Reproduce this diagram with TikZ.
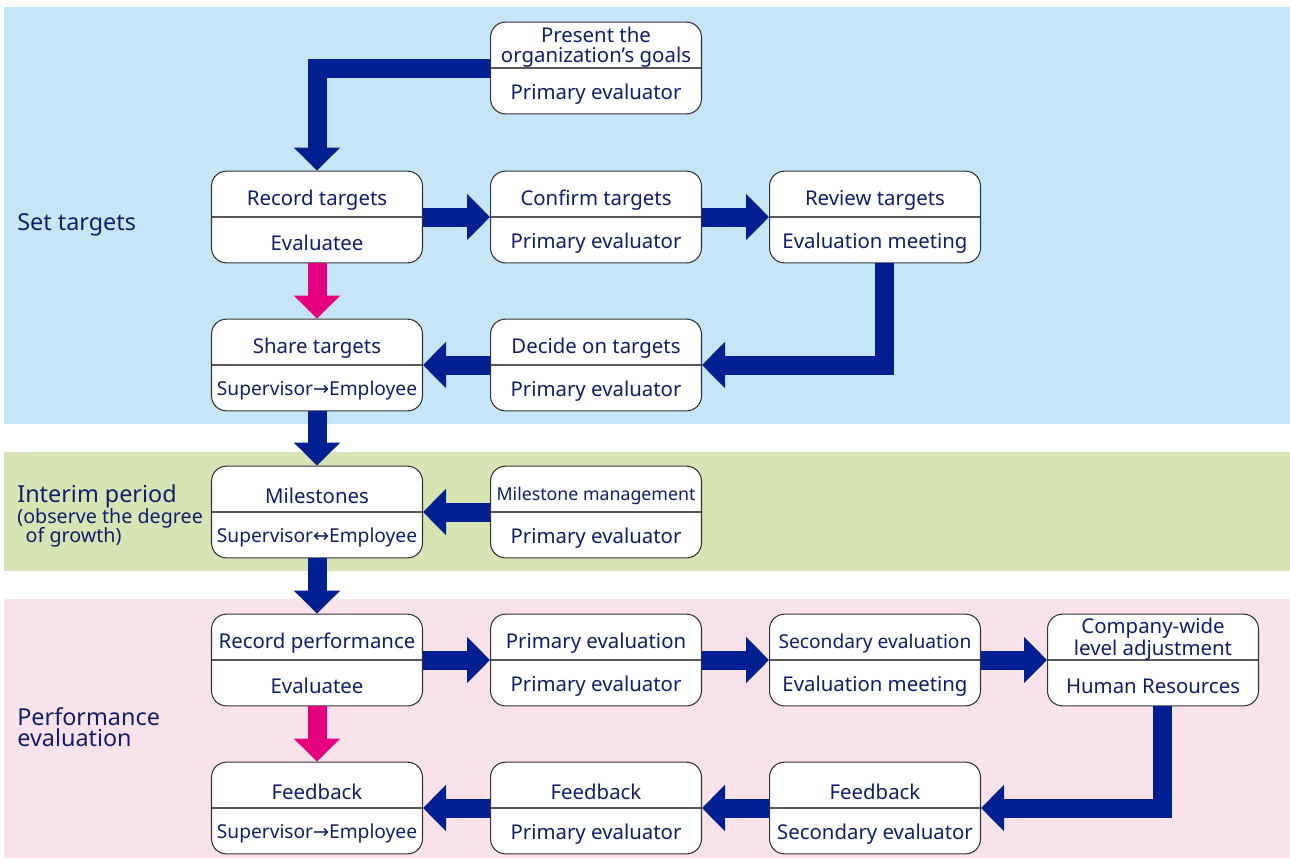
\documentclass[tikz,border=0pt]{standalone}
\usepackage{fontspec}
\setmainfont{Noto Sans}
\newfontfamily\arrowfont{DejaVu Sans}
\usepackage{tikz}
\usetikzlibrary{arrows.meta,calc}
\definecolor{navy}{RGB}{0,32,145}
\definecolor{ink}{RGB}{16,30,110}
\definecolor{hotpink}{RGB}{228,0,127}
\definecolor{bandblue}{RGB}{198,230,248}
\definecolor{bandgreen}{RGB}{215,228,180}
\definecolor{bandpink}{RGB}{250,226,235}
\tikzset{
    stage/.style = {draw=black!80, fill=white, rectangle, rounded corners=0.3cm,
        line width=0.6pt, inner sep=0pt, text=ink,
        path picture={\draw[black!65, line width=0.6pt] (path picture bounding box.west) -- (path picture bounding box.east);}},
    flow/.style = {draw=navy, line width=0.38cm, line join=miter,
        -{Triangle[width=0.9cm, length=0.46cm]}},
    share/.style = {flow, draw=hotpink},
    phase/.style = {anchor=west, inner sep=0pt, text=ink, align=left, font=\fontsize{13.3}{14}\selectfont}
}
% top part: optional downward shift, then the name of the step; bottom part: who does it
\newcommand{\twopart}[3][0.28cm]{\vbox{\hbox{\parbox[c][0.9cm][c]{4.22cm}{\vspace*{#1}\centering\fontsize{11.6}{11.4}\selectfont #2}}%
    \hbox{\parbox[c][0.9cm][c]{4.22cm}{\vspace*{0.1cm}\centering\fontsize{11.6}{12}\selectfont #3}}}}
\newcommand{\narrow}[1]{{\fontsize{10.9}{12}\selectfont #1}}
\newcommand{\ra}{{\arrowfont →}}
\newcommand{\lra}{{\arrowfont ↔}}

\begin{document}
\begin{tikzpicture}[x=0.02cm, y=-0.02cm]
    \useasboundingbox (0,0) rectangle (1290,860);
    % bands
    \fill[bandblue] (4,7) rectangle (1290,424);
    \fill[bandgreen] (4,452) rectangle (1290,571);
    \fill[bandpink] (4,599) rectangle (1290,858);
    \node[phase] (settgt) at (17,225) {Set targets};
    \node[phase] (interim) at (17,516) {Interim period\\[-2pt]{\fontsize{11.2}{10.5}\selectfont (observe the degree}\\[-3pt]{\fontsize{11.2}{10.5}\selectfont\ \,of growth)}};
    \node[phase] (perfeval) at (17,727) {Performance\\[-2pt]evaluation};
    % set targets
    \node[stage] (goals) at (596,68) {\twopart[0.1cm]{Present the\\organization’s goals}{Primary evaluator}};
    \node[stage] (rec) at (317,217) {\twopart{Record targets}{Evaluatee}};
    \node[stage] (conf) at (596,217) {\twopart{Confirm targets}{Primary evaluator}};
    \node[stage] (rev) at (875,217) {\twopart{Review targets}{Evaluation meeting}};
    \node[stage] (sharet) at (317,365) {\twopart{Share targets}{\narrow{Supervisor\ra Employee}}};
    \node[stage] (dec) at (596,365) {\twopart{Decide on targets}{Primary evaluator}};
    % interim
    \node[stage] (mile) at (317,512) {\twopart{Milestones}{\narrow{Supervisor\lra Employee}}};
    \node[stage] (mgmt) at (596,512) {\twopart{{\fontsize{10.1}{12}\selectfont Milestone management}}{Primary evaluator}};
    % performance evaluation
    \node[stage] (perf) at (317,660) {\twopart{Record performance}{Evaluatee}};
    \node[stage] (prim) at (596,660) {\twopart{Primary evaluation}{Primary evaluator}};
    \node[stage] (sec) at (875,660) {\twopart{\narrow{Secondary evaluation}}{Evaluation meeting}};
    \node[stage] (hr) at (1153,660) {\twopart[0.1cm]{Company-wide\\level adjustment}{Human Resources}};
    \node[stage] (fbsup) at (317,808) {\twopart{Feedback}{\narrow{Supervisor\ra Employee}}};
    \node[stage] (fbprim) at (596,808) {\twopart{Feedback}{Primary evaluator}};
    \node[stage] (fbsec) at (875,808) {\twopart{Feedback}{Secondary evaluator}};
    % connectors
    \draw[flow] (goals.west) -| (rec.north);
    \draw[flow] (rec.east) -- (conf.west);
    \draw[flow] (conf.east) -- (rev.west);
    \draw[flow] ([xshift=0.18cm]rev.south) |- (dec.east);
    \draw[flow] (dec.west) -- (sharet.east);
    \draw[share] (rec.south) -- (sharet.north);
    \draw[flow] (sharet.south) -- (mile.north);
    \draw[flow] (mgmt.west) -- (mile.east);
    \draw[flow] (mile.south) -- (perf.north);
    \draw[flow] (perf.east) -- (prim.west);
    \draw[flow] (prim.east) -- (sec.west);
    \draw[flow] (sec.east) -- (hr.west);
    \draw[flow] ([xshift=0.18cm]hr.south) |- (fbsec.east);
    \draw[flow] (fbsec.west) -- (fbprim.east);
    \draw[flow] (fbprim.west) -- (fbsup.east);
    \draw[share] (perf.south) -- (fbsup.north);
\end{tikzpicture}
\end{document}
